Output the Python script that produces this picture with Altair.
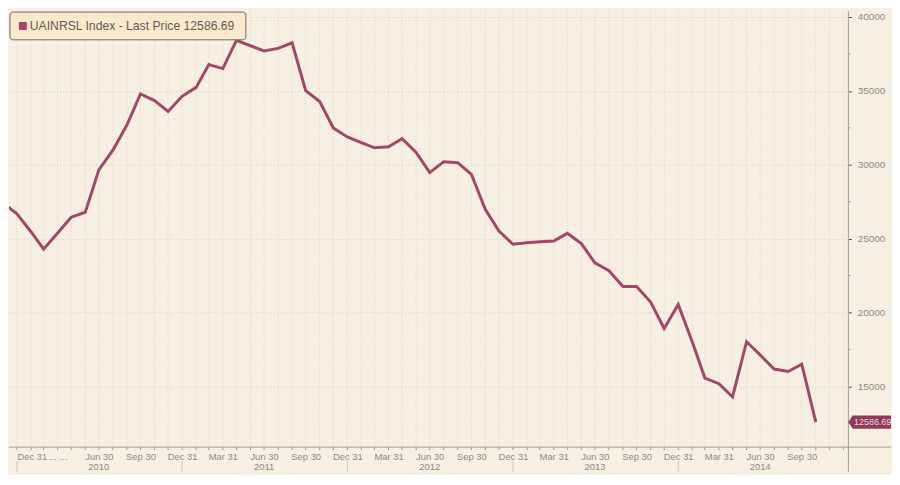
import altair as alt
import pandas as pd

# ---------------- data ----------------
ticker = "UAINRSL Index"
last_price = 12586.69
start_month = "2009-11-30"
prices = [27411, 26673, 25466, 24285, 25379, 26452, 26787, 29651, 30992, 32689,
          34789, 34346, 33608, 34634, 35238, 36781, 36512, 38424, 38055, 37700,
          37874, 38256, 35017, 34279, 32488, 31885, 31502, 31147, 31214, 31770,
          30831, 29470, 30208, 30141, 29356, 26968, 25513, 24621, 24728, 24795,
          24842, 25359, 24661, 23367, 22830, 21757, 21757, 20704, 18920, 20550,
          18021, 15566, 15184, 14292, 18021, 17129, 16170, 16009, 16505, last_price]
year_labels = ["2010", "2011", "2012", "2013", "2014"]
year_label_dates = ["2010-06-30", "2011-06-30", "2012-06-30", "2013-06-30", "2014-06-30"]
year_bounds = ["2009-12-31", "2010-12-31", "2011-12-31", "2012-12-31", "2013-12-31"]
y_ticks = [15000, 20000, 25000, 30000, 35000, 40000]
y_minor = [12500, 17500, 22500, 27500, 32500, 37500]

dates = pd.date_range(start_month, periods=len(prices), freq=pd.offsets.MonthEnd())
df = pd.DataFrame({"date": [d.strftime("%Y-%m-%d") for d in dates], "price": prices})

month_ends = pd.date_range("2009-12-31", "2014-12-31", freq=pd.offsets.MonthEnd())
months_df = pd.DataFrame({"date": [d.strftime("%Y-%m-%d") for d in month_ends]})
quarter_ends = [d for d in month_ends if d.month in (3, 6, 9, 12) and d < pd.Timestamp("2014-12-01")]

def ms(s):
    return int(pd.Timestamp(s, tz="UTC").value // 10**6)
quarter_ms = [ms(d.strftime("%Y-%m-%d")) for d in quarter_ends]

# ---------------- layout / style ----------------
W, H = 847, 440
X_DOMAIN = [ms("2009-12-13 12:00"), ms("2015-01-11")]
Y_DOMAIN = [10887, 40402]
BG = "#f7efe1"
LINE = "#a1486a"
GRID = "#dcd1c1"
LABEL = "#8d8a86"
AXLINE = "#a29c93"
FONT = "Liberation Sans"

xscale = alt.Scale(type="utc", domain=X_DOMAIN)
yscale = alt.Scale(domain=Y_DOMAIN, nice=False, zero=False)

label_expr = ("(utcyear(datum.value) == 2010 && utcmonth(datum.value) == 2) ? '... ...' : "
              "utcFormat(datum.value, '%b %d')")

vgrid = alt.Chart(months_df).mark_rule(color=GRID, strokeDash=[1, 2], strokeWidth=1,
                                       clip=True).encode(
    x=alt.X("date:T", title=None), y=alt.value(0), y2=alt.value(H))

line = alt.Chart(df).mark_line(color=LINE, strokeWidth=3, clip=True).encode(
    x=alt.X("date:T", scale=xscale, title=None,
            axis=alt.Axis(values=quarter_ms, labelExpr=label_expr,
                          grid=False, domain=False, ticks=False,
                          labelFont=FONT, labelFontSize=9.5, labelColor=LABEL,
                          labelPadding=4, labelFlush=10, labelOverlap=False)),
    y=alt.Y("price:Q", scale=yscale, title=None,
            axis=alt.Axis(orient="right", values=y_ticks, format="d",
                          grid=True, gridColor=GRID, gridDash=[1, 2], gridWidth=1,
                          domain=False, tickSize=3, tickColor="#555555",
                          labelFont=FONT, labelFontSize=10, labelColor=LABEL,
                          labelPadding=6)),
)

mticks = alt.Chart(months_df).mark_rule(color="#9d978e").encode(
    x=alt.X("date:T", title=None), y=alt.value(H), y2=alt.value(H + 3))

minor = alt.Chart(pd.DataFrame({"v": y_minor})).mark_rule(color="#8a847b").encode(
    y=alt.Y("v:Q", title=None), x=alt.value(W), x2=alt.value(W + 2))

years = alt.Chart(pd.DataFrame({"date": year_label_dates, "label": year_labels})).mark_text(
    font=FONT, fontSize=9.5, color=LABEL, baseline="middle").encode(
    x=alt.X("date:T", title=None), y=alt.value(H + 20), text="label:N")

seps = alt.Chart(pd.DataFrame({"date": year_bounds})).mark_rule(color="#cfc6b8").encode(
    x=alt.X("date:T", title=None), y=alt.value(H + 14), y2=alt.value(H + 25))

hline = alt.Chart().mark_rule(color=AXLINE).encode(
    x=alt.value(0), x2=alt.value(W + 43), y=alt.value(H))
vline = alt.Chart().mark_rule(color=AXLINE).encode(
    x=alt.value(W), y=alt.value(0), y2=alt.value(H + 25))

legend_box = alt.Chart().mark_rect(fill="#fbe9cc", stroke="#6e6a66", strokeWidth=1,
                                   cornerRadius=3).encode(
    x=alt.value(1), x2=alt.value(239), y=alt.value(1), y2=alt.value(29))
legend_sq = alt.Chart().mark_rect(fill=LINE).encode(
    x=alt.value(10), x2=alt.value(18), y=alt.value(11), y2=alt.value(19))
legend_txt = alt.Chart().mark_text(align="left", baseline="middle", font=FONT,
                                   fontSize=12.3, color="#5f5b58").encode(
    x=alt.value(21), y=alt.value(15.5),
    text=alt.value(f"{ticker} - Last Price {last_price:.2f}"))

tag = alt.Chart().mark_point(
    shape="M-1,0 L-0.8,-0.31 L1,-0.31 L1,0.31 L-0.8,0.31 Z",
    size=1849, filled=True, fill="#8e3b5b", opacity=1, strokeWidth=0).encode(
    x=alt.value(W + 21.5), y=alt.datum(last_price))
tag_txt = alt.Chart().mark_text(align="center", baseline="middle", font=FONT,
                                fontSize=9, color="#f6d0df").encode(
    x=alt.value(W + 24.5), y=alt.datum(last_price), text=alt.value(f"{last_price:.2f}"))

chart = alt.layer(vgrid, line, mticks, minor, seps, years, hline, vline, legend_box,
                  legend_sq, legend_txt, tag, tag_txt).properties(
    width=W, height=H, padding=0
).configure(background=BG).configure_view(stroke=None)

chart.save("out.html", embed_options={"renderer": "svg", "actions": False})
